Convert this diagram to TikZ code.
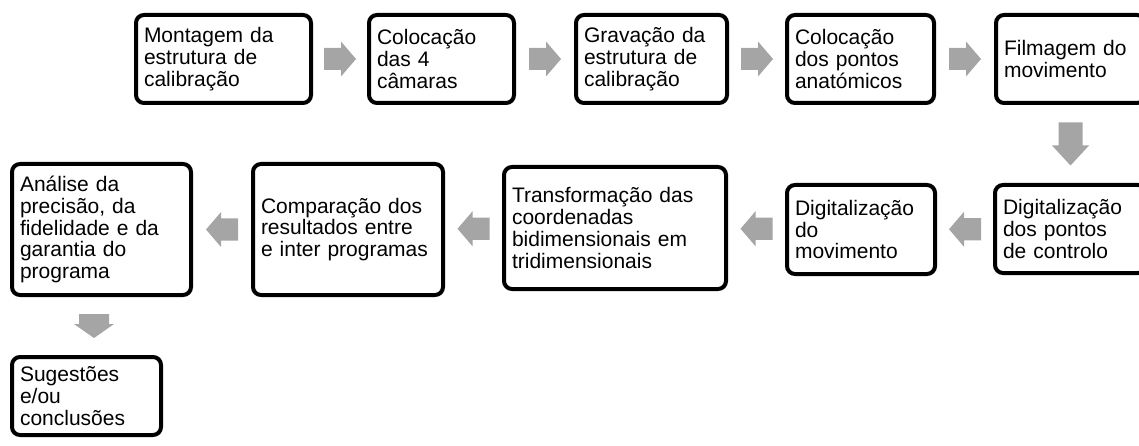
\documentclass[tikz,border=0pt]{standalone}
\usepackage{fontspec}
\setmainfont{Liberation Sans}
\usetikzlibrary{calc}
\definecolor{arrowgray}{HTML}{A5A5A5}
% #1 from, #2 to, #3 angle, #4 length, #5 head length, #6 shaft width, #7 head width
\newcommand{\blockarrow}[7]{%
  \fill[arrowgray, shift={($#1!0.5!#2$)}, rotate=#3]
    ({-#4/2},{-#6/2}) -- ({#4/2-#5},{-#6/2}) -- ({#4/2-#5},{-#7/2}) --
    ({#4/2},0) -- ({#4/2-#5},{#7/2}) -- ({#4/2-#5},{#6/2}) --
    ({-#4/2},{#6/2}) -- cycle;}
\tikzset{
  box/.style={draw=black, line width=4pt, rounded corners=8pt, fill=white,
    align=left, inner xsep=8pt, inner ysep=0pt,
    font=\fontsize{21}{21.7}\selectfont}
}
\begin{document}
\begin{tikzpicture}[x=1pt,y=1pt]
\useasboundingbox (0,0) rectangle (1139,-446);
\clip (0,0) rectangle (1139,-446);
% row 1
\node[box, minimum width=175pt, minimum height=88pt, text width=159pt] (b1) at (223.5,-59) {Montagem da\\estrutura de\\calibração};
\node[box, minimum width=145pt, minimum height=88pt, text width=129pt] (b2) at (441.5,-59) {Colocação\\das 4\\câmaras};
\node[box, minimum width=151pt, minimum height=88pt, text width=135pt] (b3) at (651.5,-59) {Gravação da\\estrutura de\\calibração};
\node[box, minimum width=147pt, minimum height=88pt, text width=131pt] (b4) at (860.5,-59) {Colocação\\dos pontos\\anatómicos};
\node[box, minimum width=149pt, minimum height=88pt, text width=133pt] (b5) at (1070.5,-59) {Filmagem do\\movimento};
% row 2
\node[box, minimum width=151pt, minimum height=88pt, text width=135pt] (b6) at (1070.5,-229) {Digitalização\\dos pontos\\de controlo};
\node[box, minimum width=148pt, minimum height=89pt, text width=132pt] (b7) at (861,-229.5) {Digitalização\\do\\movimento};
\node[box, minimum width=222pt, minimum height=122pt, text width=206pt] (b8) at (615,-228) {Transformação das\\coordenadas\\bidimensionais em\\tridimensionais};
\node[box, minimum width=190pt, minimum height=131pt, text width=174pt] (b9) at (348,-229.5) {Comparação dos\\resultados entre\\e inter programas};
\node[box, minimum width=179pt, minimum height=131pt, text width=163pt] (b10) at (101.5,-229.5) {Análise da\\precisão, da\\fidelidade e da\\garantia do\\programa};
% row 3
\node[box, minimum width=149pt, minimum height=78pt, text width=133pt] (b11) at (86.5,-396) {Sugestões\\e/ou\\conclusões};
% arrows
\blockarrow{(b1.east)}{(b2.west)}{0}{32}{15}{22}{35}
\blockarrow{(b2.east)}{(b3.west)}{0}{32}{15}{22}{35}
\blockarrow{(b3.east)}{(b4.west)}{0}{32}{15}{22}{35}
\blockarrow{(b4.east)}{(b5.west)}{0}{32}{15}{22}{35}
\blockarrow{(b5.south)}{(b6.north)}{-90}{43}{20}{24}{37}
\blockarrow{(b6.west)}{(b7.east)}{180}{32}{15}{22}{35}
\blockarrow{(b7.west)}{(b8.east)}{180}{32}{15}{22}{35}
\blockarrow{(b8.west)}{(b9.east)}{180}{32}{15}{22}{35}
\blockarrow{(b9.west)}{(b10.east)}{180}{32}{15}{22}{35}
\blockarrow{(b10.south)}{(b11.north)}{-90}{24}{14}{30}{40}
\end{tikzpicture}
\end{document}
